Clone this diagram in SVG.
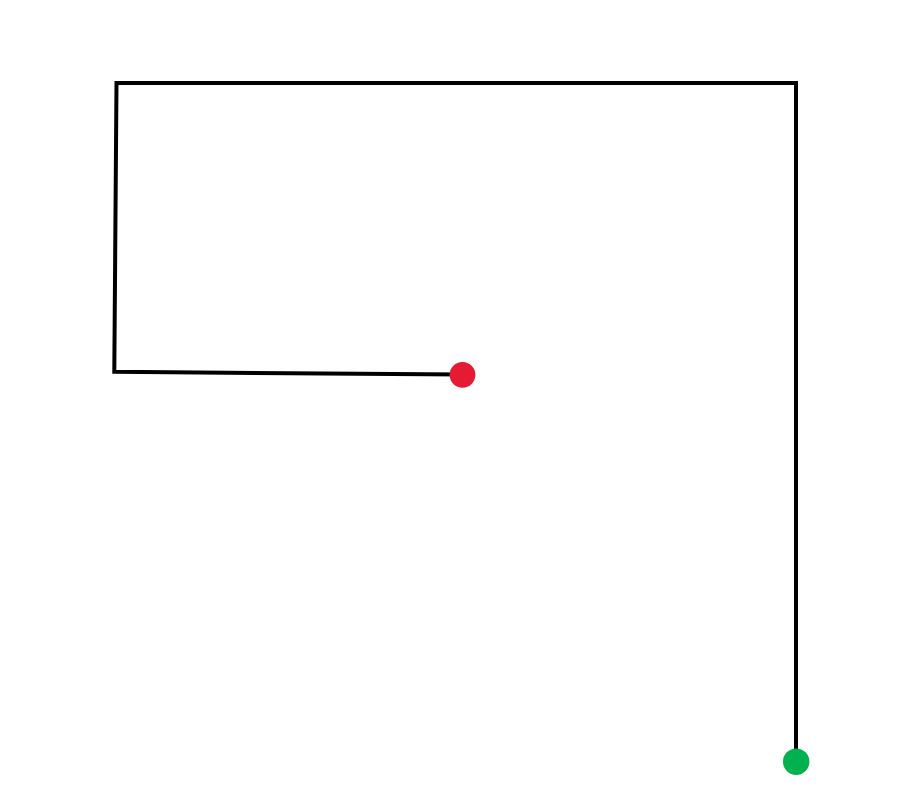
<svg xmlns="http://www.w3.org/2000/svg" width="918" height="807" viewBox="0 0 918 807">
<style>
.wire{fill:none;stroke:#000;stroke-width:4;stroke-linejoin:miter;stroke-linecap:butt}
</style>
<rect width="918" height="807" fill="#fff"/>
<g id="connectors">
<path class="wire" d="M796 762 L796 83 L116.5 83 L114.3 371.8 L462 374.5"/>
</g>
<g id="end-red">
<circle cx="462.5" cy="374.8" r="12.9" fill="#E51A33"/>
</g>
<g id="start-green">
<circle cx="796.2" cy="761.7" r="13.2" fill="#00B24F"/>
</g>
</svg>
